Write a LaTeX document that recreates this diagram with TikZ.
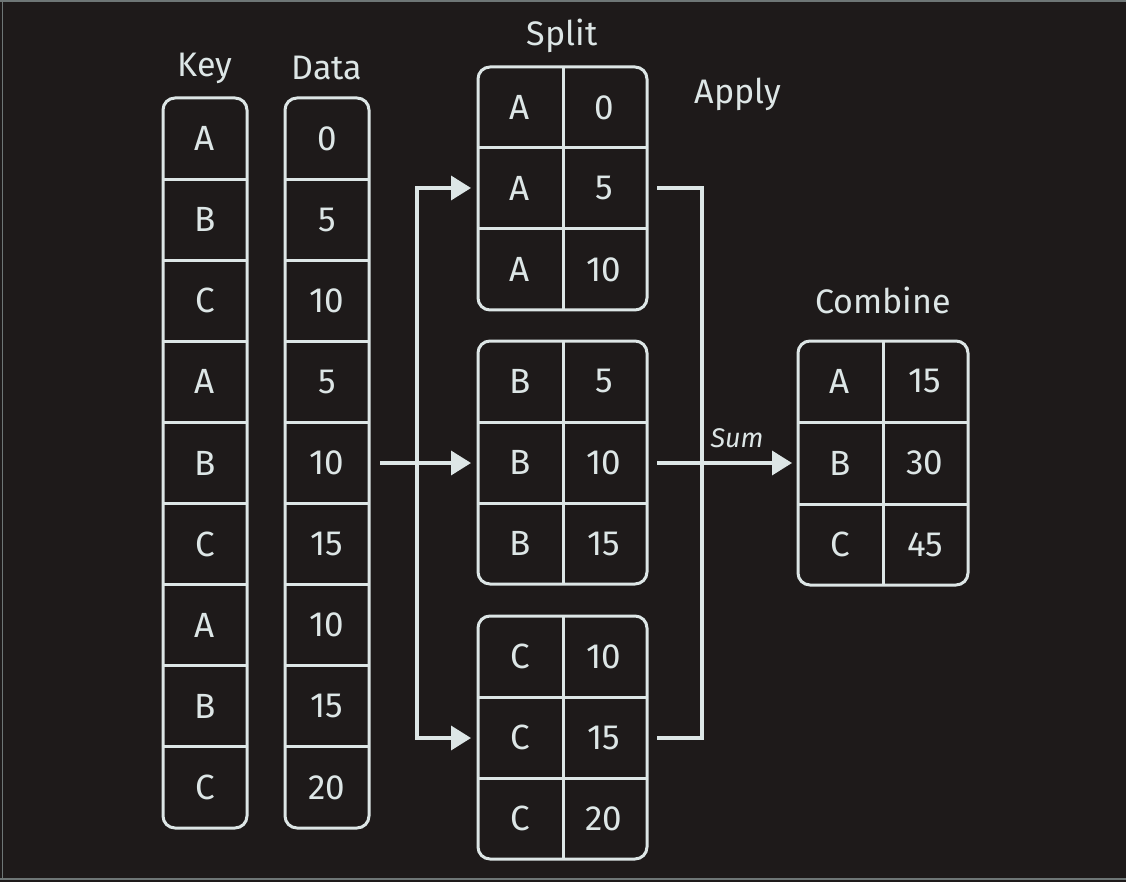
\documentclass[tikz,border=0pt]{standalone}
\usepackage{fontspec}
\setmainfont{Fira Sans}
\usetikzlibrary{arrows.meta}
\definecolor{bg}{HTML}{1E1A1A}
\definecolor{fg}{HTML}{DDE6E6}
\definecolor{frame}{HTML}{6E7676}
\begin{document}
\begin{tikzpicture}[x=1pt,y=-1pt,
  cell/.style={draw=none,text=fg,font=\fontsize{35}{36}\selectfont},
  lbl/.style={text=fg,font=\fontsize{34}{36}\selectfont},
  box/.style={draw=fg,line width=3pt,rounded corners=12pt},
  grid/.style={draw=fg,line width=3pt},
  conn/.style={draw=fg,line width=3.5pt},
  tip/.style={-{Triangle[length=20pt,width=24pt]}}
]
\fill[bg] (0,0) rectangle (1126,882);
\useasboundingbox (0,0) rectangle (1126,882);
\draw[frame,line width=1.5pt] (0,0.8) -- (1126,0.8);
\draw[frame,line width=1.5pt] (2.5,0) -- (2.5,880);
\draw[frame,line width=2pt] (0,879) -- (1126,879);

% Key and Data columns
\def\rowh{81.11}
\draw[box] (163,98) rectangle (247,828);
\draw[box] (285,98) rectangle (369,828);
\foreach \i in {1,...,8}{
  \draw[grid] (163,98+\i*\rowh) -- (247,98+\i*\rowh);
  \draw[grid] (285,98+\i*\rowh) -- (369,98+\i*\rowh);
}
\node[lbl] (keyl) at (205,68) {Key};
\node[lbl] (datal) at (327,68) {Data};
\foreach [count=\i from 0] \k/\d in {A/0,B/5,C/10,A/5,B/10,C/15,A/10,B/15,C/20}{
  \node[cell] (k\i) at (205,98+\i*\rowh+\rowh/2) {\k};
  \node[cell] (d\i) at (327,98+\i*\rowh+\rowh/2) {\d};
}

% Split tables
\foreach \t/\y in {1/67,2/341,3/616}{
  \draw[box] (478,\y) rectangle (647,\y+243);
  \draw[grid] (563,\y) -- (563,\y+243);
  \draw[grid] (478,\y+81) -- (647,\y+81);
  \draw[grid] (478,\y+162) -- (647,\y+162);
}
\node[lbl] (splitl) at (562,36) {Split};
\node[lbl] (applyl) at (738,94) {Apply};
\foreach \t/\y/\k/\a/\b/\c in {a/67/A/0/5/10,b/341/B/5/10/15,c/616/C/10/15/20}{
  \node[cell] (\t k0) at (520,\y+40.5) {\k};
  \node[cell] (\t k1) at (520,\y+121.5) {\k};
  \node[cell] (\t k2) at (520,\y+202.5) {\k};
  \node[cell] (\t v0) at (604,\y+40.5) {\a};
  \node[cell] (\t v1) at (604,\y+121.5) {\b};
  \node[cell] (\t v2) at (604,\y+202.5) {\c};
}

% Combine table
\draw[box] (798,341) rectangle (968,585);
\draw[grid] (883,341) -- (883,585);
\draw[grid] (798,422) -- (968,422);
\draw[grid] (798,504) -- (968,504);
\node[lbl] (combl) at (883,300) {Combine};
\node[cell] (ck0) at (840,381.5) {A};
\node[cell] (cv0) at (925,381.5) {15};
\node[cell] (ck1) at (840,463) {B};
\node[cell] (cv1) at (925,463) {30};
\node[cell] (ck2) at (840,544.5) {C};
\node[cell] (cv2) at (925,544.5) {45};

% connectors
\coordinate (src) at (380,463);
\coordinate (ta) at (471,188);
\coordinate (tb) at (471,463);
\coordinate (tc) at (471,738);
\coordinate (oa) at (657,188);
\coordinate (ob) at (657,463);
\coordinate (oc) at (657,738);
\coordinate (dst) at (792,463);
\draw[conn,tip] (src) -- (tb);
\draw[conn,tip] (417,463) |- (ta);
\draw[conn,tip] (417,463) |- (tc);
\draw[conn] (oa) -| (702,463);
\draw[conn] (oc) -| (702,463);
\draw[conn,tip] (ob) -- (dst);
\node[text=fg,font=\fontsize{27}{28}\selectfont\itshape] (sum) at (737,438) {Sum};
\end{tikzpicture}
\end{document}
